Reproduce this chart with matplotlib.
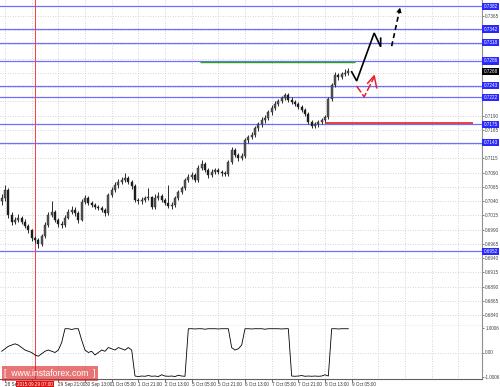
import matplotlib
matplotlib.use("Agg")
import matplotlib.pyplot as plt
import matplotlib.transforms as mtrans
import numpy as np

plt.rcParams['font.family'] = ['Liberation Sans Narrow', 'Liberation Sans', 'DejaVu Sans']

# ---------------- data ----------------
# 2-hour candles (x = hour index from chart start)
bar_hours = list(range(0, 210, 2))
opens = [0.7040, 0.7046, 0.7060, 0.7016, 0.7004, 0.7007, 0.7011, 0.7004, 0.6997, 0.6989,
         0.6975, 0.6972, 0.6965, 0.6979, 0.6998, 0.7016, 0.7021, 0.7007, 0.7000, 0.6998,
         0.7011, 0.7021, 0.7025, 0.7019, 0.7007, 0.7039, 0.7046, 0.7037, 0.7033, 0.7030,
         0.7028, 0.7025, 0.7019, 0.7051, 0.7060, 0.7068, 0.7074, 0.7077, 0.7081, 0.7074,
         0.7067, 0.7042, 0.7040, 0.7042, 0.7046, 0.7047, 0.7030, 0.7046, 0.7049, 0.7042,
         0.7037, 0.7032, 0.7033, 0.7046, 0.7056, 0.7063, 0.7077, 0.7082, 0.7086, 0.7077,
         0.7098, 0.7105, 0.7095, 0.7086, 0.7091, 0.7095, 0.7091, 0.7089, 0.7088, 0.7109,
         0.7130, 0.7121, 0.7116, 0.7119, 0.7147, 0.7153, 0.7156, 0.7168, 0.7175, 0.7182,
         0.7186, 0.7196, 0.7204, 0.7211, 0.7216, 0.7221, 0.7226, 0.7218, 0.7214, 0.7211,
         0.7205, 0.7200, 0.7193, 0.7179, 0.7172, 0.7175, 0.7179, 0.7182, 0.7188, 0.7219,
         0.7244, 0.7261, 0.7258, 0.7263, 0.7265]
closes = [0.7046, 0.7060, 0.7016, 0.7004, 0.7007, 0.7011, 0.7004, 0.6997, 0.6989, 0.6975,
          0.6972, 0.6965, 0.6979, 0.6998, 0.7016, 0.7021, 0.7007, 0.7000, 0.6998, 0.7011,
          0.7021, 0.7025, 0.7019, 0.7007, 0.7039, 0.7046, 0.7037, 0.7033, 0.7030, 0.7028,
          0.7025, 0.7019, 0.7051, 0.7060, 0.7068, 0.7074, 0.7077, 0.7081, 0.7074, 0.7067,
          0.7042, 0.7040, 0.7042, 0.7046, 0.7047, 0.7030, 0.7046, 0.7049, 0.7042, 0.7037,
          0.7032, 0.7033, 0.7046, 0.7056, 0.7063, 0.7077, 0.7082, 0.7086, 0.7077, 0.7098,
          0.7105, 0.7095, 0.7086, 0.7091, 0.7095, 0.7091, 0.7089, 0.7088, 0.7109, 0.7130,
          0.7121, 0.7116, 0.7119, 0.7147, 0.7153, 0.7156, 0.7168, 0.7175, 0.7182, 0.7186,
          0.7196, 0.7204, 0.7211, 0.7216, 0.7221, 0.7226, 0.7218, 0.7214, 0.7211, 0.7205,
          0.7200, 0.7193, 0.7179, 0.7172, 0.7175, 0.7179, 0.7182, 0.7188, 0.7219, 0.7244,
          0.7261, 0.7258, 0.7263, 0.7265, 0.7268]
highs = [0.7052, 0.7068, 0.7063, 0.7021, 0.7013, 0.7017, 0.7014, 0.7008, 0.7000, 0.6992,
         0.6979, 0.6976, 0.6983, 0.7003, 0.7021, 0.7040, 0.7025, 0.7011, 0.7005, 0.7015,
         0.7026, 0.7031, 0.7029, 0.7022, 0.7044, 0.7051, 0.7049, 0.7041, 0.7037, 0.7034,
         0.7031, 0.7028, 0.7055, 0.7065, 0.7073, 0.7079, 0.7082, 0.7089, 0.7084, 0.7078,
         0.7070, 0.7046, 0.7047, 0.7050, 0.7063, 0.7050, 0.7052, 0.7056, 0.7053, 0.7046,
         0.7068, 0.7038, 0.7050, 0.7060, 0.7067, 0.7081, 0.7087, 0.7091, 0.7089, 0.7103,
         0.7112, 0.7108, 0.7099, 0.7096, 0.7099, 0.7098, 0.7095, 0.7093, 0.7113, 0.7135,
         0.7133, 0.7125, 0.7124, 0.7151, 0.7157, 0.7161, 0.7172, 0.7179, 0.7187, 0.7191,
         0.7200, 0.7209, 0.7215, 0.7220, 0.7225, 0.7230, 0.7229, 0.7222, 0.7218, 0.7214,
         0.7209, 0.7204, 0.7197, 0.7182, 0.7179, 0.7183, 0.7186, 0.7192, 0.7223, 0.7248,
         0.7266, 0.7265, 0.7267, 0.7272, 0.7274]
lows = [0.7034, 0.7041, 0.7011, 0.6999, 0.7000, 0.7003, 0.7000, 0.6993, 0.6985, 0.6971,
        0.6967, 0.6958, 0.6961, 0.6976, 0.6994, 0.7012, 0.7003, 0.6995, 0.6993, 0.6995,
        0.7008, 0.7017, 0.7014, 0.7002, 0.7005, 0.7035, 0.7033, 0.7029, 0.7026, 0.7024,
        0.7021, 0.7014, 0.7016, 0.7047, 0.7056, 0.7064, 0.7071, 0.7073, 0.7070, 0.7062,
        0.7038, 0.7035, 0.7036, 0.7039, 0.7042, 0.7026, 0.7027, 0.7042, 0.7038, 0.7033,
        0.7028, 0.7027, 0.7030, 0.7043, 0.7052, 0.7060, 0.7073, 0.7079, 0.7073, 0.7074,
        0.7094, 0.7091, 0.7081, 0.7083, 0.7088, 0.7087, 0.7085, 0.7084, 0.7085, 0.7106,
        0.7117, 0.7111, 0.7112, 0.7116, 0.7143, 0.7149, 0.7152, 0.7164, 0.7171, 0.7178,
        0.7182, 0.7192, 0.7200, 0.7207, 0.7212, 0.7217, 0.7214, 0.7210, 0.7207, 0.7201,
        0.7196, 0.7189, 0.7175, 0.7168, 0.7168, 0.7171, 0.7175, 0.7178, 0.7185, 0.7215,
        0.7240, 0.7253, 0.7254, 0.7259, 0.7261]

indicator = [0.05, 0.15, 0.25, 0.30, 0.35, 0.30, 0.20, 0.10, 0.05, 0.00,
             -0.10, -0.15, -0.05, 0.05, 0.10, 0.05, 0.00, 0.10, 0.40, 0.96,
             0.96, 0.93, 0.96, 0.96, 0.50, 0.10, 0.00, 0.05, -0.10, 0.00,
             0.10, 0.05, 0.20, 0.15, 0.10, 0.20, 0.15, 0.10, 0.20, 0.10,
             -0.95, -0.97, -0.95, -0.96, -0.93, -0.96, -0.95, -0.97, -0.90, -0.95,
             -0.96, -0.95, -0.97, -0.92, -0.95, -0.96, 0.96, 0.96, 0.95, 0.96,
             0.96, 0.94, 0.96, 0.96, 0.96, 0.95, 0.96, 0.96, 0.96, 0.20,
             0.10, 0.15, 0.30, 0.96, 0.96, 0.95, 0.96, 0.96, 0.96, 0.94,
             0.96, 0.96, 0.96, 0.96, 0.95, 0.96, 0.96, -0.95, -0.96, -0.95,
             -0.93, -0.96, -0.95, -0.96, -0.95, -0.96, -0.95, -0.90, -0.95, 0.96,
             0.96, 0.95, 0.96, 0.96, 0.96]

level_prices = [0.7382, 0.7342, 0.7318, 0.7286, 0.7243, 0.7222, 0.7175, 0.7143, 0.6952]
level_labels = ["0.7382", "0.7342", "0.7318", "0.7286", "0.7243", "0.7222", "0.7175", "0.7143", "0.6952"]
current_price = 0.7268
green_level = 0.7285
green_span = (118.8, 212.0)
red_level = 0.7178
red_span = (193.8, 282.6)
red_vline_hour = 20
red_vline_label = "2015.09.29 07:00"

price_ticks = [0.7365, 0.7340, 0.7315, 0.7290, 0.7265, 0.7240, 0.7215, 0.7190, 0.7165,
               0.7140, 0.7115, 0.7090, 0.7065, 0.7040, 0.7015, 0.6990, 0.6965, 0.6940,
               0.6915, 0.6890, 0.6865, 0.6840]
time_tick_hours = [2, 18, 34, 50, 66, 82, 98, 114, 130, 146, 162, 178, 194, 210]
time_tick_labels = ["28 Sep", "", "29 Sep 21:00", "30 Sep 13:00",
                    "1 Oct 05:00", "1 Oct 21:00", "2 Oct 13:00", "5 Oct 05:00",
                    "5 Oct 21:00", "6 Oct 13:00", "7 Oct 05:00", "7 Oct 21:00",
                    "8 Oct 13:00", "9 Oct 05:00"]

# forecast drawings (hour index, price)
fc_black_x = [210, 213, 223.5, 227.4, 227.4]
fc_black_y = [0.7267, 0.7251, 0.7335, 0.7311, 0.7326]
fc_dash_x = [234, 239.0]
fc_dash_y = [0.7312, 0.7379]
fc_red_x = [213, 217.5, 223.5]
fc_red_y = [0.7242, 0.7223, 0.7258]
fc_red_head_x = [219.6, 223.5, 225.0]
fc_red_head_y = [0.7247, 0.7260, 0.7239]

# ---------------- figure ----------------
W, H = 500, 387
fig = plt.figure(figsize=(W / 100, H / 100), dpi=100)
fig.patch.set_facecolor("white")

FS = 3.3
ax_right = 482 / W
ax = fig.add_axes([0, 1 - 326 / H, ax_right, 326 / H])
axi = fig.add_axes([0, 1 - 379 / H, ax_right, 53 / H], sharex=ax)

xmax = 482 / 1.6667
ax.set_xlim(-1, xmax - 1)
ax.set_ylim(0.68211, 0.7393)

grid_hours = list(range(2, int(xmax), 16))
dot = (0, (1, 2))
for a in (ax, axi):
    for gx in grid_hours:
        a.axvline(gx, color="#c8c8c8", lw=0.6, ls=dot, zorder=0)
for p in price_ticks:
    ax.axhline(p, color="#c8c8c8", lw=0.6, ls=dot, zorder=0)

# candles
for x, o, c, h, l in zip(bar_hours, opens, closes, highs, lows):
    ax.vlines(x, l, h, color="#2a2a2a", lw=0.7, zorder=3)
    lo, hi = min(o, c), max(o, c)
    if hi - lo < 0.00008:
        hi = lo + 0.00008
    ax.add_patch(plt.Rectangle((x - 0.65, lo), 1.3, hi - lo,
                               facecolor="#555555" if c >= o else "#1a1a1a",
                               edgecolor="#2a2a2a", lw=0.3, zorder=4))

# levels
for p in level_prices:
    ax.axhline(p, color="#6f6fff", lw=0.9, zorder=2)
ax.hlines(green_level, *green_span, color="#2ea02e", lw=1.0, zorder=3)
ax.hlines(red_level, *red_span, color="#e82020", lw=1.2, zorder=3)

# red vertical line
for a in (ax, axi):
    a.axvline(red_vline_hour, color="#ff3a3a", lw=0.7, zorder=2)

# forecast drawings
ax.plot(fc_black_x, fc_black_y, color="black", lw=1.2, zorder=6, solid_joinstyle="miter")
ax.plot(fc_dash_x, fc_dash_y, color="black", lw=1.2, ls=(0, (3, 2)), zorder=6)
ax.annotate("", xy=(fc_dash_x[1], fc_dash_y[1]), xytext=(fc_dash_x[0], fc_dash_y[0]),
            arrowprops=dict(arrowstyle="-|>,head_length=0.35,head_width=0.2",
                            color="black", lw=0, shrinkA=0, shrinkB=0), zorder=6)
ax.plot(fc_red_x, fc_red_y, color="#e8202a", lw=1.1, ls=(0, (5, 1.5)), zorder=6)
ax.plot(fc_red_head_x, fc_red_head_y, color="#e8202a", lw=1.1, zorder=6)

# right price axis
for s in ("top", "left"):
    ax.spines[s].set_visible(False)
ax.spines["right"].set_color("#909090")
ax.spines["bottom"].set_color("#606060")
ax.spines["right"].set_linewidth(0.8)
ax.spines["bottom"].set_linewidth(0.8)
ax.yaxis.tick_right()
show_ticks = [p for p in price_ticks
              if all(abs(p - q) > 0.0008 for q in level_prices + [current_price])]
ax.set_yticks(show_ticks)
ax.set_yticklabels([f"{p:.4f}" for p in show_ticks])
ax.tick_params(axis="y", length=1.5, width=0.5, pad=0.8, labelsize=FS,
               colors="#444444", direction="out")
ax.tick_params(axis="x", bottom=False, labelbottom=False)

ytr = mtrans.blended_transform_factory(ax.transAxes, ax.transData)
for p, lab in zip(level_prices, level_labels):
    ax.text(1.003, p, lab, transform=ytr, fontsize=FS, color="white", va="center",
            ha="left", clip_on=False, zorder=10,
            bbox=dict(boxstyle="square,pad=0.25", fc="#2828ff", ec="#2828ff", lw=0))
ax.text(1.003, current_price, f"{current_price:.4f}", transform=ytr, fontsize=FS,
        color="white", va="center", ha="left", clip_on=False, zorder=10,
        bbox=dict(boxstyle="square,pad=0.25", fc="black", ec="black", lw=0))

# indicator panel
hours_ind = bar_hours
axi.plot(hours_ind, indicator, color="black", lw=0.6, zorder=3)
axi.set_ylim(-1.07, 1.07)
axi.axhline(0, color="#c8c8c8", lw=0.6, ls=dot, zorder=0)
for s in ("top", "left"):
    axi.spines[s].set_visible(False)
axi.spines["right"].set_color("#909090")
axi.spines["bottom"].set_color("#606060")
axi.spines["right"].set_linewidth(0.8)
axi.spines["bottom"].set_linewidth(0.8)
axi.yaxis.tick_right()
axi.set_yticks([1.0006, 0.0, -1.0006])
axi.set_yticklabels(["1.0006", "0.00", "-1.0006"])
axi.tick_params(axis="y", length=1.5, width=0.5, pad=0.8, labelsize=FS, colors="#444444")
axi.set_xticks(time_tick_hours)
axi.set_xticklabels(time_tick_labels)
axi.tick_params(axis="x", length=2, width=0.5, pad=0.5, labelsize=FS, colors="#333333")
for t in axi.get_xticklabels():
    t.set_ha("left")

# red date label on x axis
xtr = mtrans.blended_transform_factory(axi.transData, axi.transAxes)
axi.text(red_vline_hour, -0.06, red_vline_label, transform=xtr, fontsize=FS,
         color="white", ha="center", va="top", clip_on=False, zorder=12,
         bbox=dict(boxstyle="square,pad=0.3", fc="#e01010", ec="#e01010", lw=0))

# watermark
fig.text(0.1, 1 - 373.5 / H, "[  www.instaforex.com  ]", fontsize=6.2, color="white",
         family=["Liberation Sans", "DejaVu Sans"],
         ha="center", va="center", zorder=20,
         bbox=dict(boxstyle="square,pad=0.3", fc=(0.85, 0.1, 0.1, 0.6), ec="none"))

fig.savefig("out.png", dpi=100, facecolor="white")
